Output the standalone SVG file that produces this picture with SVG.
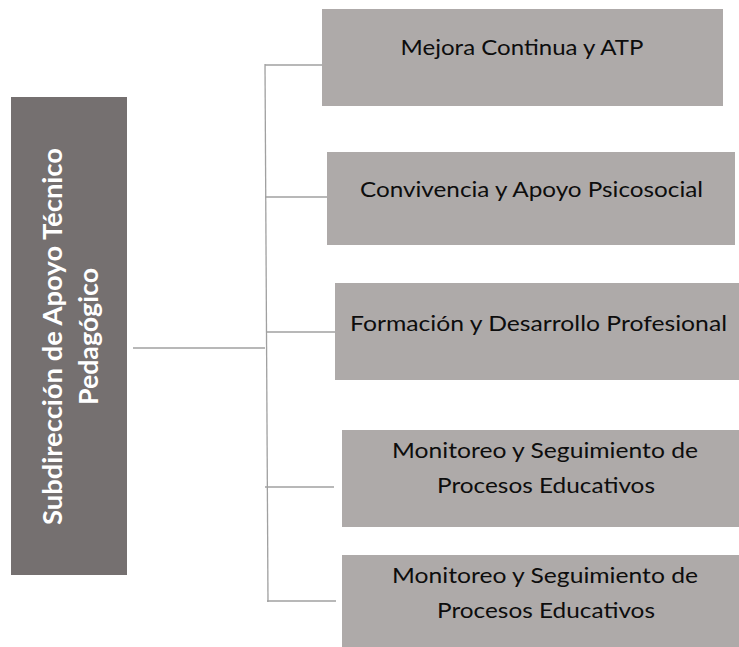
<svg xmlns="http://www.w3.org/2000/svg" width="739" height="647" viewBox="0 0 739 647">
<style>
.box{fill:#aeaaa9}
.main{fill:#757070}
.lbl{font-family:Lato,"Open Sans",sans-serif;font-size:22px;fill:#0d0d0d;text-anchor:middle}
.mlbl{font-family:Lato,"Open Sans",sans-serif;font-size:27px;font-weight:bold;fill:#ffffff;text-anchor:middle}
.ln{stroke:#a0a0a0;stroke-width:1.3;fill:none}
</style>
<rect width="739" height="647" fill="#ffffff"/>
<g id="connectors">
<line class="ln" x1="133" y1="348" x2="265" y2="348"/>
<line class="ln" x1="265" y1="64" x2="268" y2="602"/>
<line class="ln" x1="265" y1="65" x2="322" y2="65"/>
<line class="ln" x1="265" y1="197" x2="327" y2="197"/>
<line class="ln" x1="266" y1="332" x2="335" y2="332"/>
<line class="ln" x1="265" y1="487" x2="334" y2="487"/>
<line class="ln" x1="267" y1="601" x2="336" y2="601"/>
</g>
<g id="main">
<rect class="main" x="11" y="97" width="116" height="478"/>
<text class="mlbl" transform="translate(62,336.5) rotate(-90)" textLength="377" lengthAdjust="spacingAndGlyphs">Subdirección de Apoyo Técnico</text>
<text class="mlbl" transform="translate(98,336.5) rotate(-90)" textLength="137" lengthAdjust="spacingAndGlyphs">Pedagógico</text>
</g>
<g id="n1">
<rect class="box" x="322" y="9" width="401" height="97"/>
<text class="lbl" x="522" y="55" textLength="243" lengthAdjust="spacingAndGlyphs">Mejora Continua y ATP</text>
</g>
<g id="n2">
<rect class="box" x="327" y="152" width="408" height="93"/>
<text class="lbl" x="531.5" y="197" textLength="343" lengthAdjust="spacingAndGlyphs">Convivencia y Apoyo Psicosocial</text>
</g>
<g id="n3">
<rect class="box" x="335" y="283" width="404" height="97"/>
<text class="lbl" x="538.5" y="331" textLength="377" lengthAdjust="spacingAndGlyphs">Formación y Desarrollo Profesional</text>
</g>
<g id="n4">
<rect class="box" x="342" y="430" width="397" height="97"/>
<text class="lbl" x="545" y="458" textLength="306" lengthAdjust="spacingAndGlyphs">Monitoreo y Seguimiento de</text>
<text class="lbl" x="546" y="493" textLength="218" lengthAdjust="spacingAndGlyphs">Procesos Educativos</text>
</g>
<g id="n5">
<rect class="box" x="342" y="555" width="397" height="92"/>
<text class="lbl" x="545" y="583" textLength="306" lengthAdjust="spacingAndGlyphs">Monitoreo y Seguimiento de</text>
<text class="lbl" x="546" y="618" textLength="218" lengthAdjust="spacingAndGlyphs">Procesos Educativos</text>
</g>
</svg>
